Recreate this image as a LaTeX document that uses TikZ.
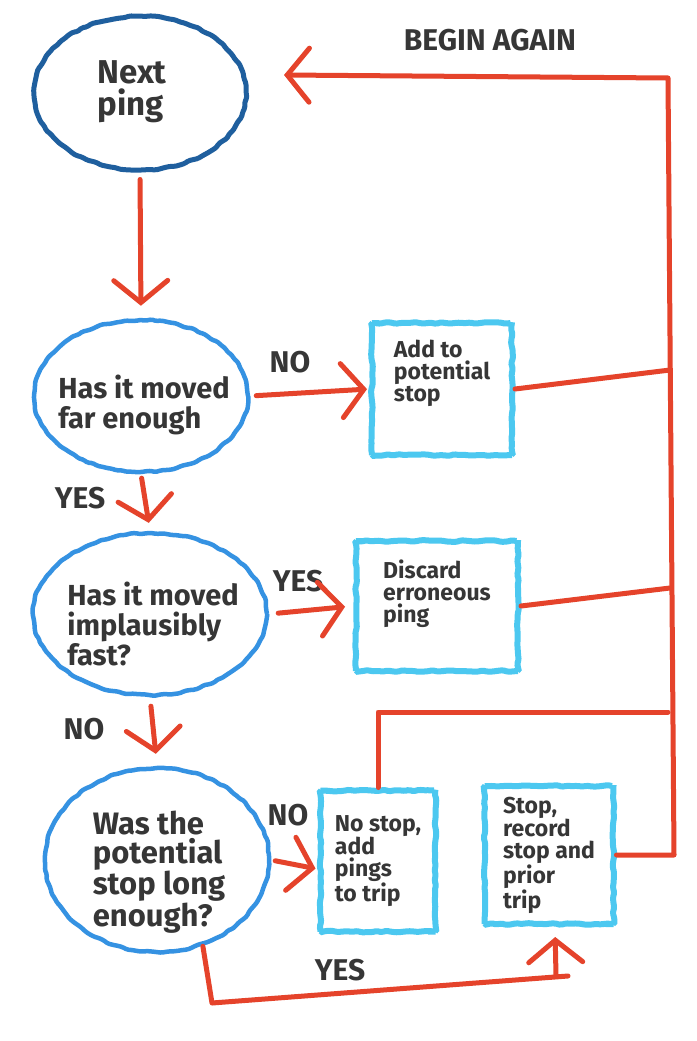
\documentclass[tikz,border=0pt]{standalone}
\usepackage{fontspec}
\setmainfont{Fira Sans}
\usetikzlibrary{arrows.meta,decorations.pathmorphing,shapes.geometric,calc}
\definecolor{crayonred}{HTML}{E5432B}
\definecolor{darkblue}{HTML}{1F5F9E}
\definecolor{midblue}{HTML}{3592E2}
\definecolor{cyanbox}{HTML}{4CC8F0}
\definecolor{ink}{HTML}{363636}
\tikzset{
  rough/.style={decorate,decoration={random steps,segment length=5pt,amplitude=0.9pt},rounded corners=1.5pt},
  startshape/.style={ellipse,draw=darkblue,line width=5pt,rough,inner sep=0pt},
  question/.style={ellipse,draw=midblue,line width=4.5pt,rough,inner sep=0pt},
  qtext/.style={text=ink,font=\bfseries\fontsize{29}{30}\selectfont,align=left,inner sep=0pt},
  action/.style={rectangle,draw=cyanbox,line width=6pt,rough,text=ink,font=\bfseries\fontsize{23}{22}\selectfont,align=left},
  lbl/.style={text=ink,font=\bfseries\fontsize{30}{30}\selectfont,inner sep=0pt},
  flow/.style={draw=crayonred,line width=5pt,line cap=round,line join=round},
  arr/.style={flow,-{Straight Barb[length=22pt,width=54pt,line cap=round]}}
}
\begin{document}
\begin{tikzpicture}[x=1pt,y=-1pt]
\useasboundingbox[fill=white] (0,0) rectangle (696,1041);
% shapes
\node[startshape,minimum width=212pt,minimum height=154pt] (next) at (140,93) {};
\node[qtext,font=\bfseries\fontsize{33}{32}\selectfont] (nextt) at (132,92) {Next\\ping};
\node[question,minimum width=214pt,minimum height=152pt] (q1) at (141,396) {};
\node[qtext] (q1t) at (144,405) {Has it moved\\far enough};
\node[question,minimum width=234pt,minimum height=162pt] (q2) at (150,614) {};
\node[qtext] (q2t) at (153,624) {Has it moved\\implausibly\\fast?};
\node[question,minimum width=224pt,minimum height=184pt] (q3) at (157,860) {};
\node[qtext,font=\bfseries\fontsize{31}{29}\selectfont] (q3t) at (159,872) {Was the\\potential\\stop long\\enough?};
\node[action,minimum width=140pt,minimum height=132pt] (b1) at (442,389) {Add to\\potential\\stop\\[14pt]};
\node[action,minimum width=162pt,minimum height=130pt] (b2) at (437,606) {Discard\\erroneous\\ping\\[8pt]};
\node[action,minimum width=115pt,minimum height=141pt] (b3) at (378,861) {No stop,\\add\\pings\\to trip};
\node[action,minimum width=129pt,minimum height=138pt] (b4) at (549,855) {Stop,\\record\\stop and\\prior\\trip};
% labels
\node[lbl] (lbegin) at (490,40) {BEGIN AGAIN};
\node[lbl] (lno1) at (290,362) {NO};
\node[lbl] (lyes1) at (80,498) {YES};
\node[lbl] (lyes2) at (298,581) {YES};
\node[lbl] (lno2) at (84,729) {NO};
\node[lbl] (lno3) at (288,815) {NO};
\node[lbl] (lyes3) at (340,970) {YES};
% return line coordinates
\coordinate (rtop) at (668,78);
\coordinate (rj1) at (670,370);
\coordinate (rj2) at (670,588);
\coordinate (rj3) at (668,712);
\coordinate (rbot) at (674,855);
\coordinate (tip) at (284,75);
\coordinate (yb1) at (212,1003);
\coordinate (yb2) at (568,976);
\coordinate (yb3) at (556,976);
% connectors
\draw[arr,shorten <=7pt,shorten >=12pt] (next.south) -- (q1.north);
\draw[arr,shorten <=6pt,shorten >=2pt] (q1.east) -- (b1.west);
\draw[arr,shorten <=4pt,shorten >=8pt] (q1.south) -- (q2.north);
\draw[arr,shorten <=9pt,shorten >=8pt] (q2.east) -- (b2.west);
\draw[arr,shorten <=9pt,shorten >=12pt] (q2.south) -- (q3.north);
\draw[arr,shorten <=4pt,shorten >=2pt] (q3.east) -- ([yshift=-8pt]b3.west);
\draw[flow] (b1.east) -- (rj1);
\draw[flow] (b2.east) -- (rj2);
\draw[flow] (b3.north) |- (rj3);
\draw[arr] (b4.east) -- (rbot) -- (rtop) -- (tip);
\draw[flow] (q3.-62) -- (yb1) -- (yb2);
\draw[arr,shorten >=10pt] (yb3) -- ([xshift=6pt]b4.south);
\end{tikzpicture}
\end{document}
